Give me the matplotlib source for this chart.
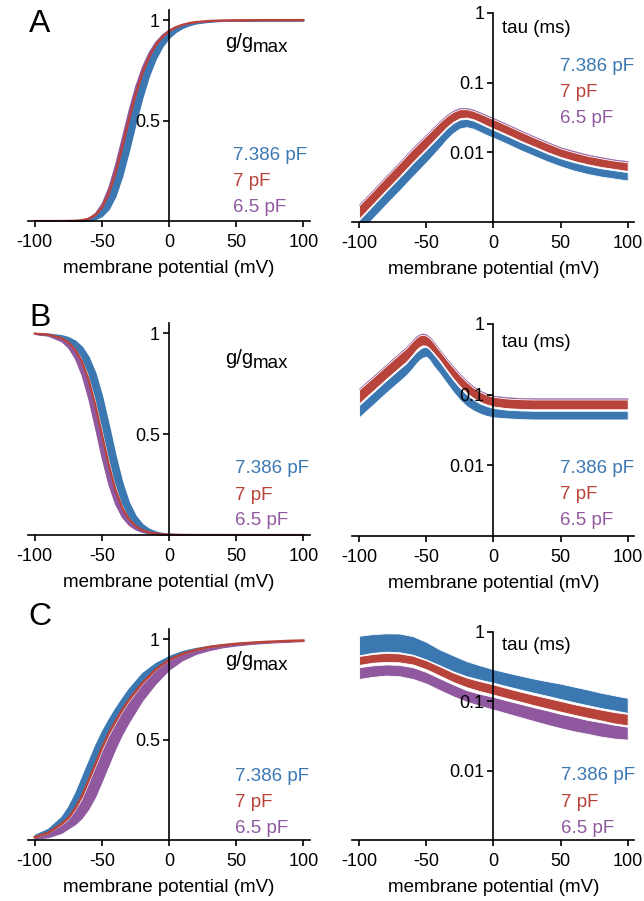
import numpy as np
import matplotlib
matplotlib.use('Agg')
import matplotlib.pyplot as plt
from matplotlib.ticker import NullLocator

plt.rcParams['font.family'] = ['Liberation Sans', 'DejaVu Sans']

BLUE = '#3b78b2'
RED = '#b8433b'
PURPLE = '#90599f'

caps = ['7.386 pF', '7 pF', '6.5 pF']

# ---- row A, activation (g/gmax) ----
v_a = [-100, -80, -70, -65, -60, -55, -50, -45, -40, -35, -30, -25, -20, -15, -10, -5, 0, 5, 10, 15, 20, 30, 40, 50, 70, 100]
a_g_blue_hi = [0, 0.0001, 0.0011, 0.0033, 0.0097, 0.0258, 0.0607, 0.125, 0.224, 0.350, 0.487, 0.615, 0.724, 0.808, 0.870, 0.913, 0.942, 0.962, 0.975, 0.984, 0.9895, 0.9955, 0.998, 0.9992, 0.9998, 1.0]
a_g_blue_lo = [0, 0, 0.0003, 0.0011, 0.0033, 0.0097, 0.0258, 0.0607, 0.125, 0.224, 0.350, 0.487, 0.615, 0.724, 0.808, 0.870, 0.913, 0.942, 0.962, 0.975, 0.984, 0.9932, 0.9972, 0.9988, 0.9997, 1.0]
a_g_red = [0, 0.0001, 0.0013, 0.0038, 0.011, 0.029, 0.066, 0.134, 0.236, 0.364, 0.500, 0.627, 0.733, 0.815, 0.874, 0.916, 0.945, 0.964, 0.976, 0.985, 0.990, 0.9957, 0.9981, 0.9992, 0.9998, 1.0]
a_g_purple_hi = [0, 0.0002, 0.0019, 0.0057, 0.016, 0.040, 0.0887, 0.170, 0.284, 0.418, 0.553, 0.673, 0.769, 0.841, 0.893, 0.929, 0.953, 0.969, 0.980, 0.987, 0.9916, 0.9964, 0.9985, 0.9994, 0.9999, 1.0]

# ---- row A, tau (ms) ----
vt_a = [-100, -90, -80, -70, -60, -50, -40, -35, -30, -25, -20, -15, -10, -5, 0, 10, 20, 30, 40, 50, 60, 70, 80, 90, 100]
a_tau_red_hi = [0.00173, 0.00274, 0.0044, 0.00697, 0.0112, 0.0173, 0.0269, 0.0327, 0.0381, 0.0416, 0.0416, 0.0394, 0.0361, 0.0327, 0.0299, 0.0245, 0.020, 0.0164, 0.0136, 0.0114, 0.010, 0.00895, 0.0082, 0.0076, 0.00719]
a_tau_red_lo = [0.00112, 0.00179, 0.00286, 0.00454, 0.00728, 0.0114, 0.0181, 0.0228, 0.0274, 0.0309, 0.0316, 0.0299, 0.0271, 0.0243, 0.022, 0.0181, 0.0147, 0.0122, 0.0101, 0.00857, 0.00752, 0.00675, 0.00617, 0.00578, 0.00541]
a_tau_blue_hi = [0.00107, 0.00171, 0.00274, 0.00434, 0.00697, 0.0109, 0.0173, 0.0218, 0.0262, 0.0296, 0.0302, 0.0286, 0.0259, 0.0233, 0.0211, 0.0173, 0.0141, 0.0117, 0.00967, 0.0082, 0.0072, 0.00646, 0.0059, 0.00553, 0.00518]
a_tau_blue_lo = [0.000689, 0.00112, 0.00179, 0.00283, 0.00454, 0.00719, 0.0117, 0.0152, 0.0189, 0.022, 0.023, 0.0218, 0.0197, 0.0177, 0.0162, 0.0133, 0.0108, 0.00895, 0.00743, 0.00631, 0.00547, 0.0049, 0.00449, 0.00421, 0.00394]
a_tau_purple_hi = [0.00181, 0.00286, 0.0046, 0.00728, 0.0117, 0.0181, 0.0281, 0.0342, 0.0398, 0.0435, 0.0435, 0.0412, 0.0377, 0.0342, 0.0312, 0.0256, 0.0209, 0.0171, 0.0142, 0.0119, 0.0105, 0.00935, 0.00857, 0.00794, 0.00751]

# ---- row B, inactivation (g/gmax) ----
v_b = [-100, -90, -80, -75, -70, -65, -60, -55, -50, -45, -40, -35, -30, -25, -20, -15, -10, -5, 0, 10, 20, 50, 100]
b_g_blue_hi = [0.999, 0.9966, 0.9885, 0.979, 0.962, 0.9322, 0.8821, 0.8026, 0.6884, 0.5456, 0.3949, 0.2618, 0.1616, 0.0948, 0.0538, 0.030, 0.0166, 0.0091, 0.005, 0.0015, 0.0004, 0, 0]
b_g_blue_lo = [0.9981, 0.9937, 0.979, 0.962, 0.9322, 0.8821, 0.8026, 0.6884, 0.5456, 0.3949, 0.2618, 0.1616, 0.0948, 0.0538, 0.030, 0.0166, 0.0091, 0.005, 0.0027, 0.0008, 0.0002, 0, 0]
b_g_red = [0.9978, 0.9925, 0.9749, 0.9547, 0.9197, 0.8616, 0.772, 0.648, 0.5, 0.352, 0.228, 0.138, 0.0802, 0.0452, 0.0251, 0.0138, 0.0076, 0.0041, 0.0022, 0.0007, 0.0002, 0, 0]
b_g_purple_hi = [0.9975, 0.9915, 0.9717, 0.9491, 0.9103, 0.8464, 0.7498, 0.6196, 0.4695, 0.3249, 0.2073, 0.1244, 0.0717, 0.0403, 0.0223, 0.0123, 0.0067, 0.0037, 0.002, 0.0006, 0.0002, 0, 0]
b_g_purple_lo = [0.9964, 0.9877, 0.9597, 0.9283, 0.8756, 0.7927, 0.6753, 0.5305, 0.3804, 0.2501, 0.1535, 0.0897, 0.0508, 0.0283, 0.0156, 0.0085, 0.0047, 0.0025, 0.0014, 0.0004, 0.0001, 0, 0]

# ---- row B, tau (ms) ----
vt_b = [-100, -90, -80, -70, -65, -62.5, -60, -57.5, -55, -52.5, -50, -47.5, -45, -40, -35, -30, -25, -20, -15, -10, -5, 0, 10, 20, 30, 50, 100]
b_tau_red_hi = [0.118, 0.173, 0.255, 0.375, 0.452, 0.51, 0.575, 0.64, 0.69, 0.705, 0.685, 0.63, 0.56, 0.418, 0.315, 0.243, 0.189, 0.152, 0.126, 0.110, 0.0995, 0.0931, 0.0883, 0.0863, 0.0855, 0.0855, 0.0855]
b_tau_red_lo = [0.075, 0.112, 0.166, 0.243, 0.292, 0.33, 0.375, 0.43, 0.475, 0.50, 0.49, 0.45, 0.40, 0.309, 0.228, 0.170, 0.132, 0.106, 0.0902, 0.0791, 0.0726, 0.0681, 0.0644, 0.0629, 0.0622, 0.0622, 0.0622]
b_tau_blue_hi = [0.0713, 0.106, 0.158, 0.231, 0.277, 0.315, 0.356, 0.40, 0.44, 0.47, 0.475, 0.44, 0.385, 0.294, 0.217, 0.162, 0.125, 0.101, 0.0857, 0.0751, 0.069, 0.0647, 0.0612, 0.0598, 0.0591, 0.0591, 0.0591]
b_tau_blue_lo = [0.0478, 0.071, 0.106, 0.155, 0.188, 0.212, 0.24, 0.275, 0.31, 0.335, 0.345, 0.31, 0.262, 0.2, 0.148, 0.11, 0.085, 0.069, 0.060, 0.054, 0.050, 0.0478, 0.0462, 0.0451, 0.0446, 0.0446, 0.0446]
b_tau_purple_hi = [0.123, 0.181, 0.266, 0.392, 0.472, 0.533, 0.60, 0.67, 0.72, 0.737, 0.716, 0.658, 0.585, 0.437, 0.329, 0.254, 0.198, 0.159, 0.132, 0.115, 0.104, 0.0973, 0.0923, 0.0902, 0.0893, 0.0893, 0.0893]

# ---- row C, activation (g/gmax) ----
v_c = [-100, -90, -80, -75, -70, -65, -60, -55, -50, -45, -40, -35, -30, -20, -10, 0, 10, 20, 30, 40, 50, 60, 70, 80, 90, 100]
c_g_blue_hi = [0.025, 0.055, 0.115, 0.165, 0.23, 0.31, 0.39, 0.47, 0.54, 0.60, 0.655, 0.705, 0.752, 0.83, 0.88, 0.915, 0.94, 0.955, 0.966, 0.974, 0.98, 0.984, 0.987, 0.99, 0.992, 0.993]
c_g_blue_lo = [0.017, 0.04, 0.088, 0.12, 0.171, 0.237, 0.318, 0.398, 0.477, 0.546, 0.606, 0.66, 0.71, 0.79, 0.855, 0.90, 0.929, 0.948, 0.961, 0.970, 0.977, 0.982, 0.986, 0.989, 0.991, 0.9925]
c_g_red = [0.014, 0.035, 0.08, 0.108, 0.155, 0.215, 0.294, 0.374, 0.456, 0.528, 0.588, 0.645, 0.695, 0.78, 0.848, 0.896, 0.926, 0.946, 0.96, 0.969, 0.976, 0.981, 0.985, 0.988, 0.991, 0.9925]
c_g_purple_hi = [0.012, 0.032, 0.074, 0.10, 0.145, 0.20, 0.278, 0.358, 0.44, 0.514, 0.576, 0.634, 0.685, 0.772, 0.843, 0.892, 0.924, 0.944, 0.958, 0.968, 0.975, 0.98, 0.984, 0.987, 0.99, 0.992]
c_g_purple_lo = [0.006, 0.014, 0.036, 0.058, 0.079, 0.11, 0.156, 0.216, 0.294, 0.375, 0.455, 0.526, 0.586, 0.694, 0.779, 0.848, 0.895, 0.926, 0.945, 0.959, 0.968, 0.975, 0.98, 0.984, 0.987, 0.99]

# ---- row C, tau (ms) ----
vt_c = [-100, -90, -80, -70, -60, -50, -40, -30, -20, -10, 0, 10, 20, 30, 40, 50, 60, 70, 80, 90, 100]
c_tau_blue_hi = [0.88, 0.93, 0.955, 0.95, 0.87, 0.72, 0.56, 0.46, 0.38, 0.33, 0.29, 0.26, 0.235, 0.213, 0.195, 0.18, 0.163, 0.148, 0.133, 0.122, 0.112]
c_tau_blue_lo = [0.46, 0.50, 0.52, 0.51, 0.47, 0.40, 0.33, 0.27, 0.23, 0.205, 0.185, 0.165, 0.148, 0.133, 0.12, 0.108, 0.097, 0.088, 0.08, 0.074, 0.068]
c_tau_red_hi = [0.45, 0.48, 0.50, 0.49, 0.455, 0.39, 0.32, 0.26, 0.22, 0.195, 0.175, 0.155, 0.138, 0.124, 0.112, 0.101, 0.091, 0.083, 0.076, 0.07, 0.066]
c_tau_red_lo = [0.335, 0.36, 0.37, 0.365, 0.34, 0.29, 0.235, 0.19, 0.16, 0.14, 0.125, 0.111, 0.099, 0.088, 0.079, 0.071, 0.064, 0.058, 0.053, 0.048, 0.045]
c_tau_purple_hi = [0.31, 0.33, 0.34, 0.335, 0.31, 0.265, 0.215, 0.175, 0.145, 0.128, 0.116, 0.103, 0.092, 0.082, 0.074, 0.066, 0.06, 0.054, 0.05, 0.046, 0.043]
c_tau_purple_lo = [0.21, 0.225, 0.235, 0.23, 0.21, 0.18, 0.145, 0.118, 0.099, 0.086, 0.076, 0.067, 0.059, 0.052, 0.046, 0.041, 0.037, 0.034, 0.031, 0.029, 0.028]

FS = 13.5
TFS = 13

fig = plt.figure(figsize=(6.44, 9.01), dpi=100)

# axes boxes in figure fractions: [left, bottom, width, height]
W = 0.4379
XR = 0.5472
ax_al = fig.add_axes([0.0435, 0.7547, W, 0.2342])
ax_ar = fig.add_axes([XR, 0.7536, W, 0.2320])
ax_bl = fig.add_axes([0.0435, 0.4062, W, 0.2353])
ax_br = fig.add_axes([XR, 0.4051, W, 0.2353])
ax_cl = fig.add_axes([0.0435, 0.0677, W, 0.2342])
ax_cr = fig.add_axes([XR, 0.0677, W, 0.2309])


def style(ax, log):
    for s in ['top', 'right']:
        ax.spines[s].set_visible(False)
    ax.spines['left'].set_position(('data', 0))
    for s in ['left', 'bottom']:
        ax.spines[s].set_linewidth(1.2)
    ax.set_xlim(-105, 105)
    ax.set_xticks([-100, -50, 0, 50, 100])
    ax.set_xticklabels(['-100', '-50', '0', '50', '100'])
    if log:
        ax.set_yscale('log')
        ax.set_ylim(0.001, 1.0)
        ax.set_yticks([0.01, 0.1, 1])
        ax.set_yticklabels(['0.01', '0.1', '1'])
        ax.yaxis.set_minor_locator(NullLocator())
    else:
        ax.set_ylim(0, 1.05)
        ax.set_yticks([0.5, 1])
        ax.set_yticklabels(['0.5', '1'])
    ax.tick_params(axis='both', direction='out', length=4.5, width=1.2, labelsize=TFS)
    ax.tick_params(axis='x', pad=5)
    ax.tick_params(axis='y', pad=2)
    ax.set_xlabel('membrane potential (mV)', fontsize=FS, labelpad=6)
    ax.patch.set_visible(False)


def legend(ax, x, ys):
    for lab, col, y in zip(caps, [BLUE, RED, PURPLE], ys):
        ax.text(x, y, lab, color=col, fontsize=FS, va='baseline', ha='left', transform=ax.transAxes)


def gmax_label(ax, y):
    ax.text(0.699, y, 'g/g', fontsize=14.5, va='baseline', transform=ax.transAxes)
    ax.text(0.797, y - 0.017, 'max', fontsize=FS, va='baseline', transform=ax.transAxes)


# A left
ax = ax_al
ax.fill_between(v_a, a_g_blue_lo, a_g_blue_hi, color=BLUE, lw=1.2)
ax.fill_between(v_a, a_g_red, a_g_purple_hi, color=PURPLE, lw=1.0)
ax.plot(v_a, a_g_red, color=RED, lw=1.6)
style(ax, False)
gmax_label(ax, 0.82)
legend(ax, 0.728, [0.289, 0.166, 0.044])

# A right
ax = ax_ar
ax.fill_between(vt_a, a_tau_blue_lo, a_tau_blue_hi, facecolor=BLUE, edgecolor='white', lw=0.6)
ax.fill_between(vt_a, a_tau_red_hi, a_tau_purple_hi, facecolor=PURPLE, edgecolor=PURPLE, lw=0.3)
ax.fill_between(vt_a, a_tau_red_lo, a_tau_red_hi, facecolor=RED, edgecolor='white', lw=0.6)
style(ax, True)
ax.text(0.532, 0.904, 'tau (ms)', fontsize=FS, va='baseline', transform=ax.transAxes)
legend(ax, 0.736, [0.724, 0.597, 0.472])

# B left
ax = ax_bl
ax.fill_between(v_b, b_g_blue_lo, b_g_blue_hi, color=BLUE, lw=1.2)
ax.fill_between(v_b, b_g_purple_lo, b_g_purple_hi, color=PURPLE, lw=1.0)
ax.plot(v_b, b_g_red, color=RED, lw=1.6)
style(ax, False)
gmax_label(ax, 0.807)
legend(ax, 0.734, [0.294, 0.165, 0.047])

# B right
ax = ax_br
ax.fill_between(vt_b, b_tau_blue_lo, b_tau_blue_hi, facecolor=BLUE, edgecolor='white', lw=0.6)
ax.fill_between(vt_b, b_tau_red_hi, b_tau_purple_hi, facecolor=PURPLE, edgecolor=PURPLE, lw=0.3)
ax.fill_between(vt_b, b_tau_red_lo, b_tau_red_hi, facecolor=RED, edgecolor='white', lw=0.6)
style(ax, True)
ax.text(0.532, 0.893, 'tau (ms)', fontsize=FS, va='baseline', transform=ax.transAxes)
legend(ax, 0.736, [0.299, 0.173, 0.052])

# C left
ax = ax_cl
ax.fill_between(v_c, c_g_blue_lo, c_g_blue_hi, color=BLUE, lw=1.0)
ax.fill_between(v_c, c_g_purple_lo, c_g_purple_hi, facecolor=PURPLE, edgecolor=PURPLE, lw=0.8)
ax.plot(v_c, c_g_purple_hi, color='white', lw=0.8)
ax.plot(v_c, c_g_red, color=RED, lw=1.8)
style(ax, False)
gmax_label(ax, 0.825)
legend(ax, 0.734, [0.281, 0.158, 0.032])

# C right
ax = ax_cr
ax.fill_between(vt_c, c_tau_blue_lo, c_tau_blue_hi, facecolor=BLUE, edgecolor='white', lw=0.6)
ax.fill_between(vt_c, c_tau_red_lo, c_tau_red_hi, facecolor=RED, edgecolor='white', lw=0.6)
ax.fill_between(vt_c, c_tau_purple_lo, c_tau_purple_hi, facecolor=PURPLE, edgecolor='white', lw=0.6)
style(ax, True)
ax.text(0.532, 0.913, 'tau (ms)', fontsize=FS, va='baseline', transform=ax.transAxes)
legend(ax, 0.739, [0.288, 0.16, 0.035])

for lab, y in zip(['A', 'B', 'C'], [24, 318, 617]):
    fig.text(40 / 644, 1 - y / 901, lab, fontsize=23, ha='center', va='center')

fig.savefig('out.png', dpi=100)
